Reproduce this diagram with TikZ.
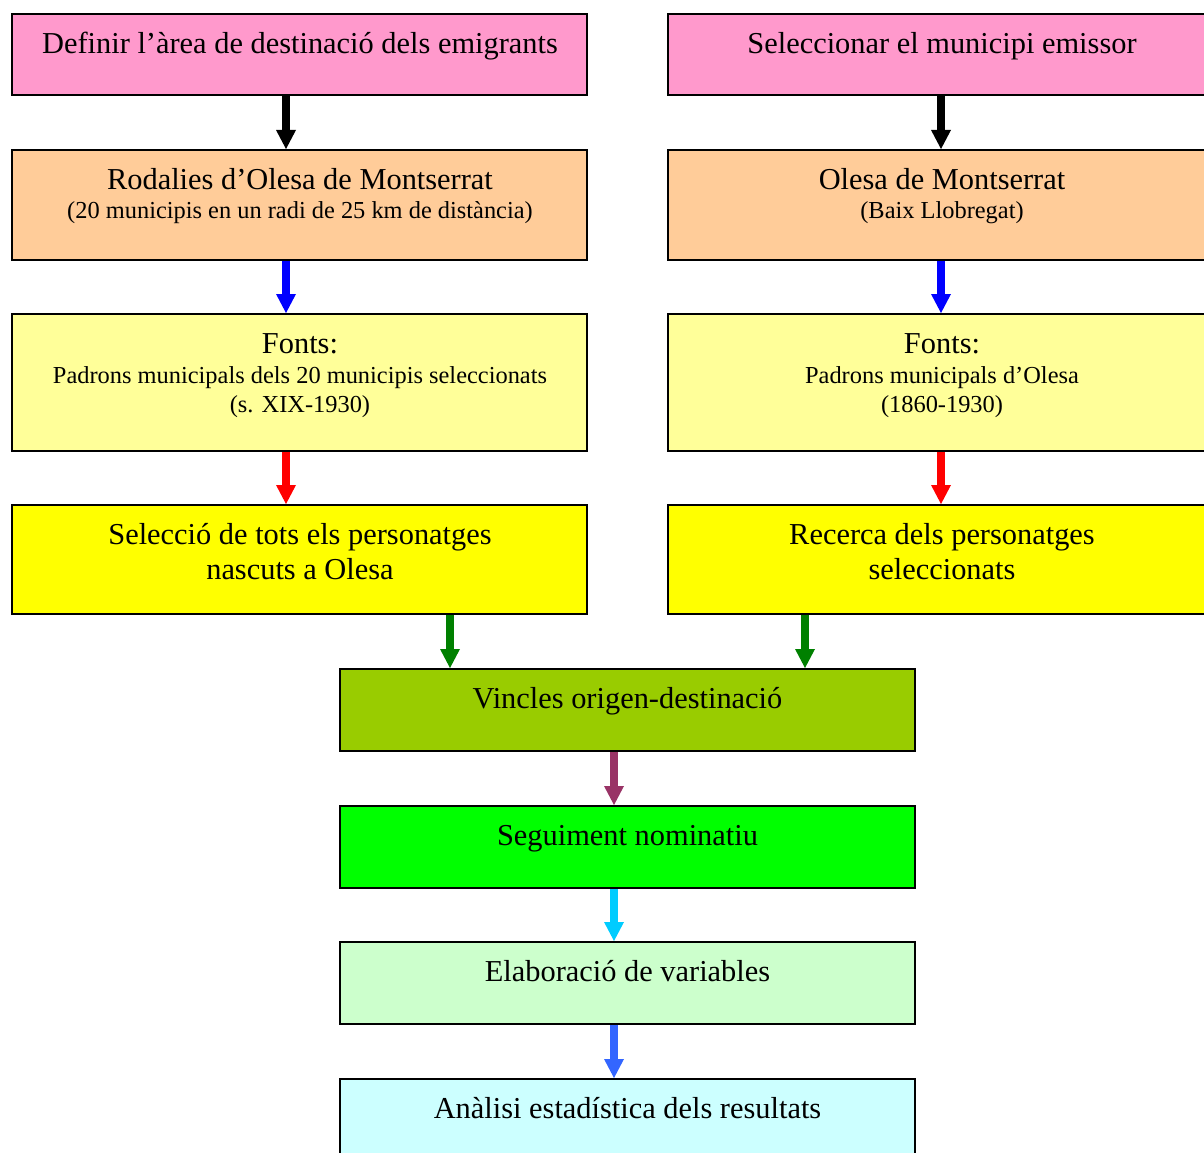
\documentclass[tikz,border=0pt]{standalone}
\usepackage{fontspec}
\setmainfont{Liberation Serif}
\usetikzlibrary{arrows.meta}
\definecolor{cpink}{HTML}{FF99CC}
\definecolor{cpeach}{HTML}{FFCC99}
\definecolor{clyellow}{HTML}{FFFF99}
\definecolor{cyellow}{HTML}{FFFF00}
\definecolor{colive}{HTML}{99CC00}
\definecolor{cgreen}{HTML}{00FF00}
\definecolor{clgreen}{HTML}{CCFFCC}
\definecolor{clcyan}{HTML}{CCFFFF}
\definecolor{agreen}{HTML}{008000}
\definecolor{amaroon}{HTML}{993366}
\definecolor{acyan}{HTML}{00CCFF}
\definecolor{ablue}{HTML}{3366FF}
\tikzset{
  box/.style={draw=black, line width=2pt, rectangle, inner sep=0pt, minimum width=575pt},
  big/.style={font=\fontsize{30.4}{35}\selectfont, anchor=base, inner sep=0pt},
  small/.style={font=\fontsize{24.4}{29}\selectfont, anchor=base, inner sep=0pt},
  arr/.style={line width=8pt, -{Triangle[width=20pt,length=19pt,line width=0pt]}},
}
\begin{document}
\begin{tikzpicture}[x=1pt,y=-1pt]
\useasboundingbox (0,0) rectangle (1204,1153);
\clip (0,0) rectangle (1204,1153);
% boxes
\node[box, fill=cpink,    minimum height=81pt]  (l1) at (299.5,54.5) {};
\node[box, fill=cpink,    minimum height=81pt]  (r1) at (955.5,54.5) {};
\node[box, fill=cpeach,   minimum height=110pt] (l2) at (299.5,205) {};
\node[box, fill=cpeach,   minimum height=110pt] (r2) at (955.5,205) {};
\node[box, fill=clyellow, minimum height=137pt] (l3) at (299.5,382.5) {};
\node[box, fill=clyellow, minimum height=137pt] (r3) at (955.5,382.5) {};
\node[box, fill=cyellow,  minimum height=109pt] (l4) at (299.5,559.5) {};
\node[box, fill=cyellow,  minimum height=109pt] (r4) at (955.5,559.5) {};
\node[box, fill=colive,   minimum height=82pt]  (c5) at (627.5,710) {};
\node[box, fill=cgreen,   minimum height=82pt]  (c6) at (627.5,847) {};
\node[box, fill=clgreen,  minimum height=82pt]  (c7) at (627.5,983) {};
\node[box, fill=clcyan,   minimum height=82pt]  (c8) at (627.5,1120) {};
% texts
\node[big] (tl1) at (300,53.5) {Definir l’àrea de destinació dels emigrants};
\node[big] (tr1) at (942,53.5) {Seleccionar el municipi emissor};
\node[big] (tl2a) at (300,189.5) {Rodalies d’Olesa de Montserrat};
\node[small] (tl2b) at (300,218.5) {(20 municipis en un radi de 25 km de distància)};
\node[big] (tr2a) at (942,189.5) {Olesa de Montserrat};
\node[small] (tr2b) at (942,218.5) {(Baix Llobregat)};
\node[big] (tl3a) at (300,353.5) {Fonts:};
\node[small] (tl3b) at (300,383.5) {Padrons municipals dels 20 municipis seleccionats};
\node[small] (tl3c) at (300,412.5) {(s. XIX-1930)};
\node[big] (tr3a) at (942,353.5) {Fonts:};
\node[small] (tr3b) at (942,383.5) {Padrons municipals d’Olesa};
\node[small] (tr3c) at (942,412.5) {(1860-1930)};
\node[big] (tl4a) at (300,544.5) {Selecció de tots els personatges};
\node[big] (tl4b) at (300,579.5) {nascuts a Olesa};
\node[big] (tr4a) at (942,544.5) {Recerca dels personatges};
\node[big] (tr4b) at (942,579.5) {seleccionats};
\node[big] (t5) at (627.5,708.5) {Vincles origen-destinació};
\node[big] (t6) at (627.5,845.5) {Seguiment nominatiu};
\node[big] (t7) at (627.5,981.5) {Elaboració de variables};
\node[big] (t8) at (627.5,1118.5) {Anàlisi estadística dels resultats};
% arrow x positions
\coordinate (xl) at (286,0);
\coordinate (xr) at (941,0);
\coordinate (xgl) at (450,0);
\coordinate (xgr) at (805,0);
\coordinate (xc) at (614,0);
% arrows
\draw[arr, black] (l1.south -| xl) -- (l2.north -| xl);
\draw[arr, black] (r1.south -| xr) -- (r2.north -| xr);
\draw[arr, blue] (l2.south -| xl) -- (l3.north -| xl);
\draw[arr, blue] (r2.south -| xr) -- (r3.north -| xr);
\draw[arr, red] (l3.south -| xl) -- (l4.north -| xl);
\draw[arr, red] (r3.south -| xr) -- (r4.north -| xr);
\draw[arr, agreen] (l4.south -| xgl) -- (c5.north -| xgl);
\draw[arr, agreen] (r4.south -| xgr) -- (c5.north -| xgr);
\draw[arr, amaroon] (c5.south -| xc) -- (c6.north -| xc);
\draw[arr, acyan] (c6.south -| xc) -- (c7.north -| xc);
\draw[arr, ablue] (c7.south -| xc) -- (c8.north -| xc);
\end{tikzpicture}
\end{document}
